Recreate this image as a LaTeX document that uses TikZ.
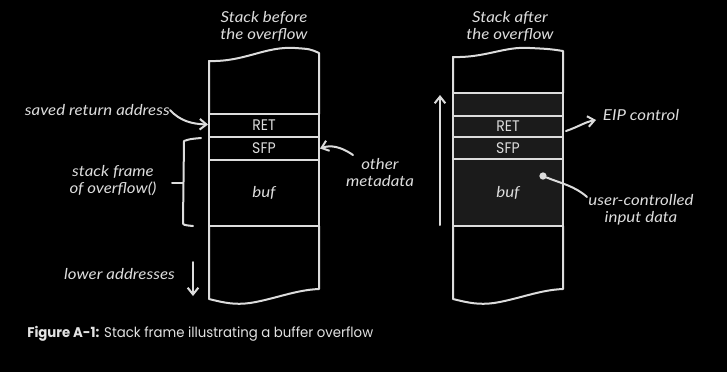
\documentclass[tikz,border=0pt]{standalone}
\usepackage{fontspec}
\usetikzlibrary{arrows.meta}
\newfontfamily\handfont[FakeStretch=1.12]{Lato}
\newfontfamily\capfont[FakeStretch=0.95]{Poppins}
\newfontfamily\cellfont[FakeStretch=0.92]{Poppins}
\definecolor{chalk}{HTML}{DCDCDC}
\definecolor{filled}{HTML}{1B1B1B}
\definecolor{captext}{HTML}{E2E2E2}
\begin{document}
\begin{tikzpicture}[x=0.75pt,y=-0.75pt,
  line/.style={draw=chalk,line width=1.5pt,line cap=round,line join=round},
  pointer/.style={line,-{Straight Barb[length=5pt,width=8pt]}},
  hand/.style={text=chalk,font=\handfont\itshape\fontsize{11.3pt}{12.75pt}\selectfont,inner sep=0pt,align=center},
  cell/.style={line,minimum width=82.5pt,inner sep=0pt,text=chalk,font=\cellfont\fontsize{11.5pt}{12pt}\selectfont},
  bufcell/.style={cell,font=\handfont\itshape\fontsize{11.3pt}{12pt}\selectfont}]
% canvas
\fill[black] (0,0) rectangle (727,372);
\useasboundingbox (0,0) rectangle (727,372);

% ---------------- stack before the overflow ----------------
\path[line] (209,114) -- (209,61) .. controls (245,62) and (265,46) .. (295,48)
  .. controls (310,49) .. (319,53) -- (319,114);
\path[line] (209,226) -- (209,299) .. controls (225,303) and (235,305) .. (250,303)
  .. controls (275,299) and (295,290) .. (319,289) -- (319,226);
\node[cell,minimum height=17.25pt] (ret1) at (264,125.5) {RET};
\node[cell,minimum height=17.25pt] (sfp1) at (264,148.5) {SFP};
\node[bufcell,minimum height=49.5pt] (buf1) at (264,193) {buf};

\node[hand] (title1) at (264,26) {Stack before\\the overflow};

\node[hand,anchor=east] (ret1lbl) at (170,110) {saved return address};
\draw[pointer] (ret1lbl.east) .. controls (180,121) and (192,124) .. ([yshift=0.75pt]ret1.west);

\node[hand] (meta) at (380,172.5) {other\\metadata};
\draw[pointer] (353,155) .. controls (340,146) and (330,145) .. (sfp1.east);

% brace marking the frame of overflow()
\coordinate (bracetip) at (172,183);
\path[line] (201,138) .. controls (190,139) .. (184,141) -- (183,222)
  .. controls (183,225) .. (193,226);
\path[line] (bracetip) -- (183,183);
\node[hand] (frame) at (113,181) {stack frame\\of overflow()};

\node[hand] (lower) at (119.5,274) {lower addresses};
\coordinate (down1) at (193,262);
\coordinate (down2) at (193,296);
\draw[pointer] (down1) -- (down2);

% ---------------- stack after the overflow ----------------
\path[line] (453,93) -- (453,57) .. controls (485,58) and (505,46) .. (530,48)
  .. controls (550,49) .. (563,51) -- (563,93);
\path[line] (453,226) -- (453,299) .. controls (469,303) and (479,305) .. (494,303)
  .. controls (519,299) and (539,290) .. (563,289) -- (563,226);
\node[cell,fill=filled,minimum height=17.25pt] (top2) at (508,104.5) {};
\node[cell,fill=filled,minimum height=15.75pt] (ret2) at (508,126.5) {RET};
\node[cell,fill=filled,minimum height=16.5pt] (sfp2) at (508,148) {SFP};
\node[bufcell,fill=filled,minimum height=50.25pt] (buf2) at (508,192.5) {buf};

\node[hand] (title2) at (510,26) {Stack after\\the overflow};

\coordinate (up1) at (440,225);
\coordinate (up2) at (440,95);
\draw[pointer] (up1) -- (up2);

\node[hand] (eip) at (641,115) {EIP control};
\draw[pointer] (566,131) .. controls (578,127) and (585,122) .. (596,120);

\node[circle,fill=chalk,inner sep=0pt,minimum size=5.5pt] (dot) at (543,176) {};
\node[hand] (user) at (641,209.5) {user-controlled\\input data};
\draw[line] (dot) .. controls (560,183) and (575,186) .. (587,197);

% ---------------- caption ----------------
\node[anchor=base west,inner sep=0pt,text=captext,font=\capfont\fontsize{10.5pt}{12pt}\selectfont]
  (caption) at (27,337) {\textbf{Figure A-1:} Stack frame illustrating a buffer overflow};
\end{tikzpicture}
\end{document}
